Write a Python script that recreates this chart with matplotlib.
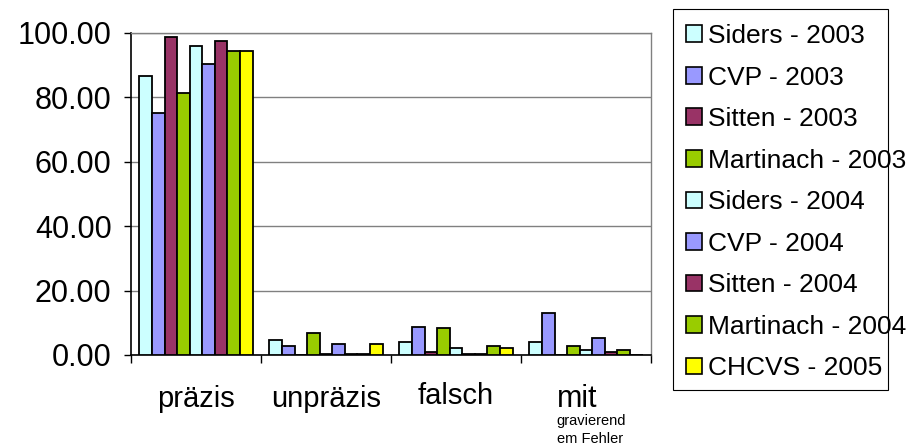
import matplotlib
matplotlib.use("Agg")
import matplotlib.pyplot as plt
from matplotlib.patches import Rectangle
import numpy as np

plt.rcParams['font.family'] = ['Liberation Sans', 'DejaVu Sans']

categories = ["präzis", "unpräzis", "falsch", "mit"]
category_subtitle = ["gravierend", "em Fehler"]

series_names = [
    "Siders - 2003", "CVP - 2003", "Sitten - 2003", "Martinach - 2003",
    "Siders - 2004", "CVP - 2004", "Sitten - 2004", "Martinach - 2004",
    "CHCVS - 2005",
]
series_colors = [
    "#CCFFFF", "#9999FF", "#993366", "#99CC00",
    "#CCFFFF", "#9999FF", "#993366", "#99CC00",
    "#FFFF00",
]

siders_2003 = [86.6, 4.7, 4.0, 4.0]
cvp_2003 = [75.2, 2.8, 8.8, 12.9]
sitten_2003 = [98.9, 0.0, 1.0, 0.0]
martinach_2003 = [81.3, 6.9, 8.3, 2.8]
siders_2004 = [96.0, 0.3, 2.2, 1.6]
cvp_2004 = [90.4, 3.3, 0.3, 5.2]
sitten_2004 = [97.6, 0.3, 0.3, 0.8]
martinach_2004 = [94.5, 0.3, 2.9, 1.7]
chcvs_2005 = [94.5, 3.3, 2.3, 0.0]

series_values = [
    siders_2003, cvp_2003, sitten_2003, martinach_2003,
    siders_2004, cvp_2004, sitten_2004, martinach_2004,
    chcvs_2005,
]

y_ticks = [0, 20, 40, 60, 80, 100]

fig = plt.figure(figsize=(9.10, 4.47), dpi=100)
ax = fig.add_axes([131 / 910, 1 - 355 / 447, 520 / 910, 322 / 447])

x = np.arange(len(categories))
n = len(series_values)
bar_w = 0.871 / n
for i, (name, vals, col) in enumerate(zip(series_names, series_values, series_colors)):
    ax.bar(x + (i - (n - 1) / 2) * bar_w, vals, width=bar_w, color=col,
           edgecolor="black", linewidth=1.3, label=name, zorder=3)

ax.set_xlim(-0.5, len(categories) - 0.5)
ax.set_ylim(0, 100)
ax.set_yticks(y_ticks)
ax.set_yticklabels([f"{v:.2f}" for v in y_ticks], fontsize=22)
ax.yaxis.grid(True, color="#808080", linewidth=1.0, zorder=0)
ax.tick_params(axis="y", direction="out", length=5, width=1, pad=9)

# category separators as ticks, labels drawn as text
ax.set_xticks(np.arange(len(categories) + 1) - 0.5)
ax.set_xticklabels([])
ax.tick_params(axis="x", direction="out", length=6, width=1)

for s in ("left", "bottom"):
    ax.spines[s].set_color("black")
    ax.spines[s].set_linewidth(1.2)
for s in ("top", "right"):
    ax.spines[s].set_color("#808080")
    ax.spines[s].set_linewidth(1.0)

trans = ax.get_xaxis_transform()
ax_h = 322.0
label_baseline = [52, 52, 49]
for i, c in enumerate(categories[:-1]):
    ax.text(i, -label_baseline[i] / ax_h, c, transform=trans, ha="center",
            va="baseline", fontsize=21)
ax.text(3 - 0.225, -52 / ax_h, categories[-1], transform=trans, ha="left",
        va="baseline", fontsize=22)
for k, line in enumerate(category_subtitle):
    ax.text(3 - 0.225, -(70 + 18 * k) / ax_h, line, transform=trans,
            ha="left", va="baseline", fontsize=10.5)

leg = fig.legend(loc="upper left", bbox_to_anchor=(686 / 910, 1 - 24 / 447),
                 frameon=False, fontsize=19, borderpad=0, borderaxespad=0,
                 handlelength=0.6, handleheight=0.6, handletextpad=0.23,
                 labelspacing=0.665)
for h in leg.legend_handles:
    h.set_linewidth(1.2)

fig.patches.append(Rectangle((673 / 910, 1 - 390 / 447), 215 / 910, 381 / 447,
                             transform=fig.transFigure, fill=False,
                             edgecolor="black", linewidth=0.8, zorder=0))

fig.savefig("out.png", dpi=100)
